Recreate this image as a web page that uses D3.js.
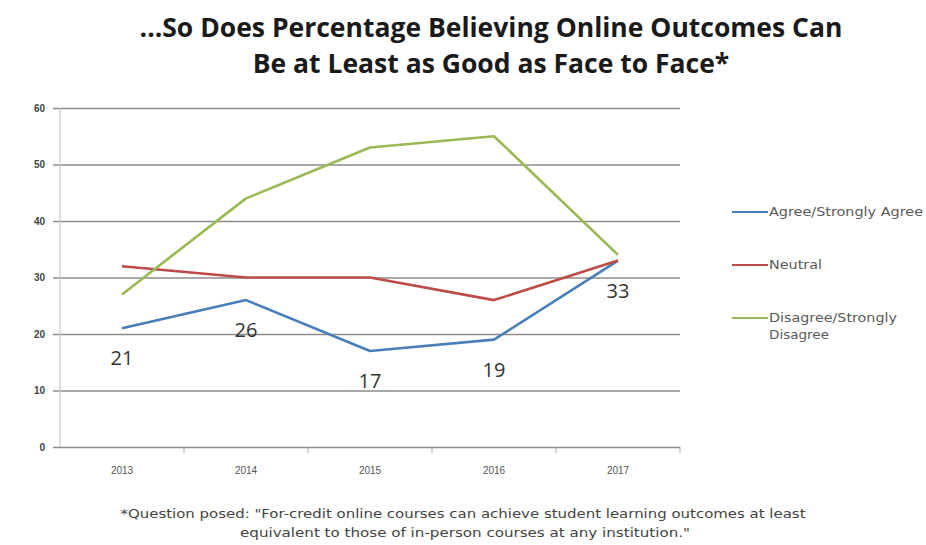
<!DOCTYPE html>
<html>
<head>
<meta charset="utf-8">
<script src="https://cdn.jsdelivr.net/npm/d3@7"></script>
<style>
  body { margin: 0; background: #fff; }
  svg { display: block; }
</style>
</head>
<body>
<div id="chart"></div>
<script>
// Data
const years = ['2013', '2014', '2015', '2016', '2017'];
const agree = [21, 26, 17, 19, 33];
const neutral = [32, 30, 30, 26, 33];
const disagree = [27, 44, 53, 55, 34];
const yTicks = [0, 10, 20, 30, 40, 50, 60];
const seriesNames = ['Agree/Strongly Agree', 'Neutral', 'Disagree/Strongly Disagree'];

const series = [
    { name: seriesNames[0], values: agree, color: '#4a7ebb' },
    { name: seriesNames[1], values: neutral, color: '#be4b48' },
    { name: seriesNames[2], values: disagree, color: '#98b954' }
];

// Set up dimensions
const W = 926, H = 545;
const margin = { top: 108, right: 246, bottom: 98, left: 60 };
const width = W - margin.left - margin.right;
const height = H - margin.top - margin.bottom;

const svg = d3.select('#chart')
    .append('svg')
    .attr('width', W)
    .attr('height', H);

// Title
const title = svg.append('text')
    .attr('text-anchor', 'middle')
    .attr('font-family', 'Open Sans')
    .attr('font-weight', 700)
    .attr('font-size', 26.5)
    .attr('fill', '#1a1a1a');
title.append('tspan').attr('x', 491).attr('y', 37).text('...So Does Percentage Believing Online Outcomes Can');
title.append('tspan').attr('x', 491).attr('y', 73).text('Be at Least as Good as Face to Face*');

const g = svg.append('g')
    .attr('transform', `translate(${margin.left},${margin.top})`);

// Scales
const x = d3.scaleBand()
    .domain(years)
    .range([0, width]);

const y = d3.scaleLinear()
    .domain([0, 60])
    .range([height, 0]);

// Y axis with gridlines
const yAxis = g.append('g')
    .attr('transform', 'translate(-7,0)')
    .call(d3.axisLeft(y).tickValues(yTicks).tickSizeInner(-(width + 7)).tickSizeOuter(0).tickPadding(8));
yAxis.select('.domain').remove();
yAxis.selectAll('.tick line').attr('stroke', '#8c8c8c').attr('stroke-width', 1.4);
yAxis.selectAll('.tick text')
    .attr('font-family', 'Liberation Sans')
    .attr('font-size', 10)
    .attr('font-weight', 700)
    .attr('fill', '#444');

// vertical axis line
g.append('line')
    .attr('x1', 0).attr('x2', 0)
    .attr('y1', 0).attr('y2', height)
    .attr('stroke', '#c8c8c8')
    .attr('stroke-width', 1.2);

// X axis
const xAxis = g.append('g')
    .attr('transform', `translate(0,${height})`)
    .call(d3.axisBottom(x).tickSize(0).tickPadding(20));
xAxis.select('.domain').remove();
xAxis.selectAll('.tick text')
    .attr('font-family', 'Liberation Sans')
    .attr('font-size', 10)
    .attr('fill', '#555');

// tick marks at category edges
g.selectAll('.edge-tick')
    .data(years)
    .enter()
    .append('line')
    .attr('class', 'edge-tick')
    .attr('x1', d => x(d) + x.bandwidth())
    .attr('x2', d => x(d) + x.bandwidth())
    .attr('y1', height)
    .attr('y2', height + 6)
    .attr('stroke', '#aaa');

// Lines
const line = d3.line()
    .x((d, i) => x(years[i]) + x.bandwidth() / 2)
    .y(d => y(d));

g.selectAll('.series')
    .data(series)
    .enter()
    .append('path')
    .attr('class', 'series')
    .attr('fill', 'none')
    .attr('stroke', d => d.color)
    .attr('stroke-width', 2.6)
    .attr('stroke-linejoin', 'round')
    .attr('d', d => line(d.values));

// Data labels for agree series
g.selectAll('.data-label')
    .data(agree)
    .enter()
    .append('text')
    .attr('class', 'data-label')
    .attr('x', (d, i) => x(years[i]) + x.bandwidth() / 2)
    .attr('y', d => y(d) + 37)
    .attr('text-anchor', 'middle')
    .attr('font-family', 'Open Sans')
    .attr('font-size', 20)
    .attr('fill', '#333')
    .text(d => d);

// Legend
const legendY = [212, 265, 318];
const legendWidths = { 'Agree/Strongly Agree': 154, 'Neutral': 53, 'Disagree/Strongly': 128, 'Disagree': 60 };
const legend = svg.selectAll('.legend')
    .data(series)
    .enter()
    .append('g')
    .attr('class', 'legend')
    .attr('transform', (d, i) => `translate(732,${legendY[i]})`);

legend.append('line')
    .attr('x1', 0).attr('x2', 36)
    .attr('y1', 0).attr('y2', 0)
    .attr('stroke', d => d.color)
    .attr('stroke-width', 2);

legend.append('text')
    .attr('x', 37)
    .attr('y', 4)
    .attr('font-family', 'DejaVu Sans')
    .attr('font-size', 11.5)
    .attr('fill', '#595959')
    .each(function (d) {
        const t = d3.select(this);
        const parts = d.name === 'Disagree/Strongly Disagree' ? ['Disagree/Strongly', 'Disagree'] : [d.name];
        parts.forEach((p, i) => {
            t.append('tspan')
                .attr('x', 37)
                .attr('dy', i === 0 ? 0 : 17)
                .attr('textLength', legendWidths[p])
                .attr('lengthAdjust', 'spacingAndGlyphs')
                .text(p);
        });
    });

// Footnote
const foot = svg.append('text')
    .attr('text-anchor', 'middle')
    .attr('font-family', 'DejaVu Sans')
    .attr('font-size', 12)
    .attr('fill', '#444');
foot.append('tspan').attr('x', 463).attr('y', 518)
    .attr('textLength', 685).attr('lengthAdjust', 'spacingAndGlyphs')
    .text('*Question posed: "For-credit online courses can achieve student learning outcomes at least');
foot.append('tspan').attr('x', 465).attr('y', 537)
    .attr('textLength', 450).attr('lengthAdjust', 'spacingAndGlyphs')
    .text('equivalent to those of in-person courses at any institution."');
</script>
</body>
</html>
